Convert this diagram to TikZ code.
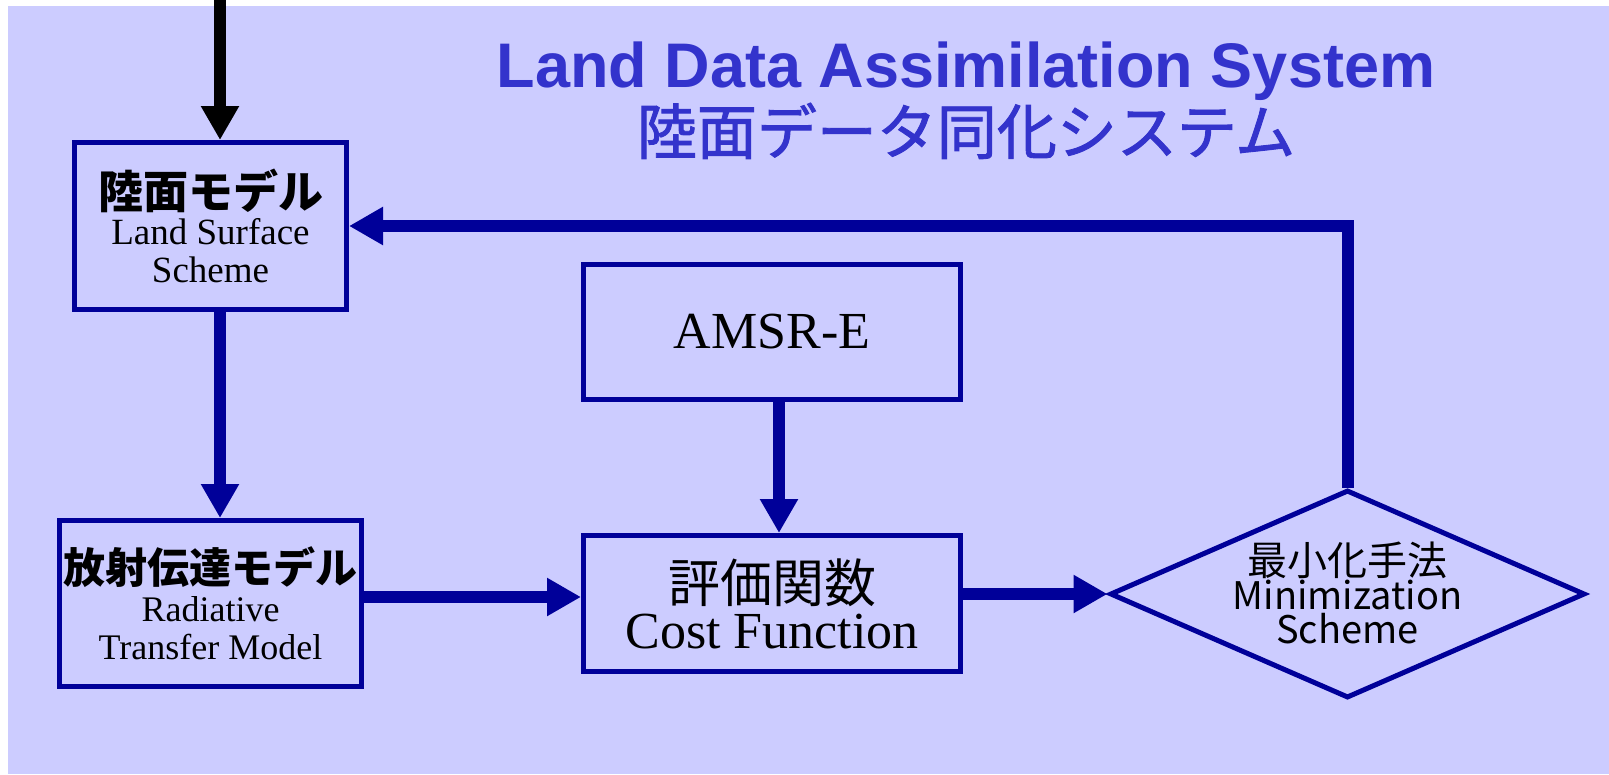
\documentclass[tikz,border=0pt]{standalone}
\usepackage{fontspec}
\setmainfont{Liberation Serif}
\newfontfamily\jp{Noto Sans CJK JP}
\newfontfamily\jpfb{Noto Sans CJK JP}[FakeBold=1.5]
\newfontfamily\titlesans{Liberation Sans}
\usetikzlibrary{arrows.meta,shapes.geometric}
\definecolor{bgc}{HTML}{CCCCFF}
\definecolor{dblue}{HTML}{000099}
\definecolor{tblue}{HTML}{3333CC}
\setlength{\lineskiplimit}{-50pt}
\begin{document}
\begin{tikzpicture}[x=1pt,y=-1pt,
  box/.style={draw=dblue, line width=5pt, inner sep=0pt, align=center, text=black},
  arr/.style={line width=12pt, -{Triangle[length=34pt,width=36pt]}},
  ttl/.style={anchor=base, text=tblue, inner sep=0pt}]
\useasboundingbox (0,0) rectangle (1609,774);
\fill[bgc] (8,6) rectangle (1609,774);
% title
\node[ttl, font=\titlesans\bfseries\fontsize{63}{63}\selectfont] (t1) at (966,87) {Land Data Assimilation System};
\node[ttl, font=\jpfb\fontsize{60}{60}\selectfont] (t2) at (966,154) {陸面データ同化システム};
% boxes
\node[box, minimum width=272pt, minimum height=167pt, font=\fontsize{37}{38}\selectfont] (land) at (210.5,226)
  {{\jp\bfseries\fontsize{45}{45}\selectfont 陸面モデル}\\[-2pt]Land Surface\\Scheme};
\node[box, minimum width=302pt, minimum height=166pt, font=\fontsize{36}{38}\selectfont] (rad) at (210.5,603.5)
  {{\jp\bfseries\fontsize{42}{42}\selectfont 放射伝達モデル}\\Radiative\\Transfer Model};
\node[box, minimum width=377pt, minimum height=135pt, font=\fontsize{52}{52}\selectfont] (amsr) at (772,332) {AMSR-E};
\node[box, minimum width=377pt, minimum height=136pt, font=\fontsize{52}{52}\selectfont] (cost) at (772,603.5)
  {{\jp\fontsize{52}{52}\selectfont 評価関数}\\[-6pt]Cost Function};
\node[draw=dblue, line width=5pt, diamond, minimum width=475pt, minimum height=208pt, inner sep=0pt] (mini) at (1347.5,594) {};
\node[align=center, inner sep=0pt, font=\jp\fontsize{38}{34}\selectfont] (minitxt) at ([yshift=1pt]mini.center)
  {{\fontsize{40}{34}\selectfont 最小化手法}\\Minimization\\Scheme};
% connectors
\coordinate (top) at (220,0);
\coordinate (hy) at (0,597);
\coordinate (ax) at (779,0);
\draw[arr, black] (top) -- (top |- land.north);
\draw[arr, dblue] (land.south -| top) -- (rad.north -| top);
\draw[arr, dblue] (rad.east |- hy) -- (cost.west |- hy);
\draw[arr, dblue] (amsr.south -| ax) -- (cost.north -| ax);
\draw[arr, dblue] (cost.east |- mini.west) -- (mini.west);
\draw[arr, dblue] (mini.north) |- (land.east);
\end{tikzpicture}
\end{document}
